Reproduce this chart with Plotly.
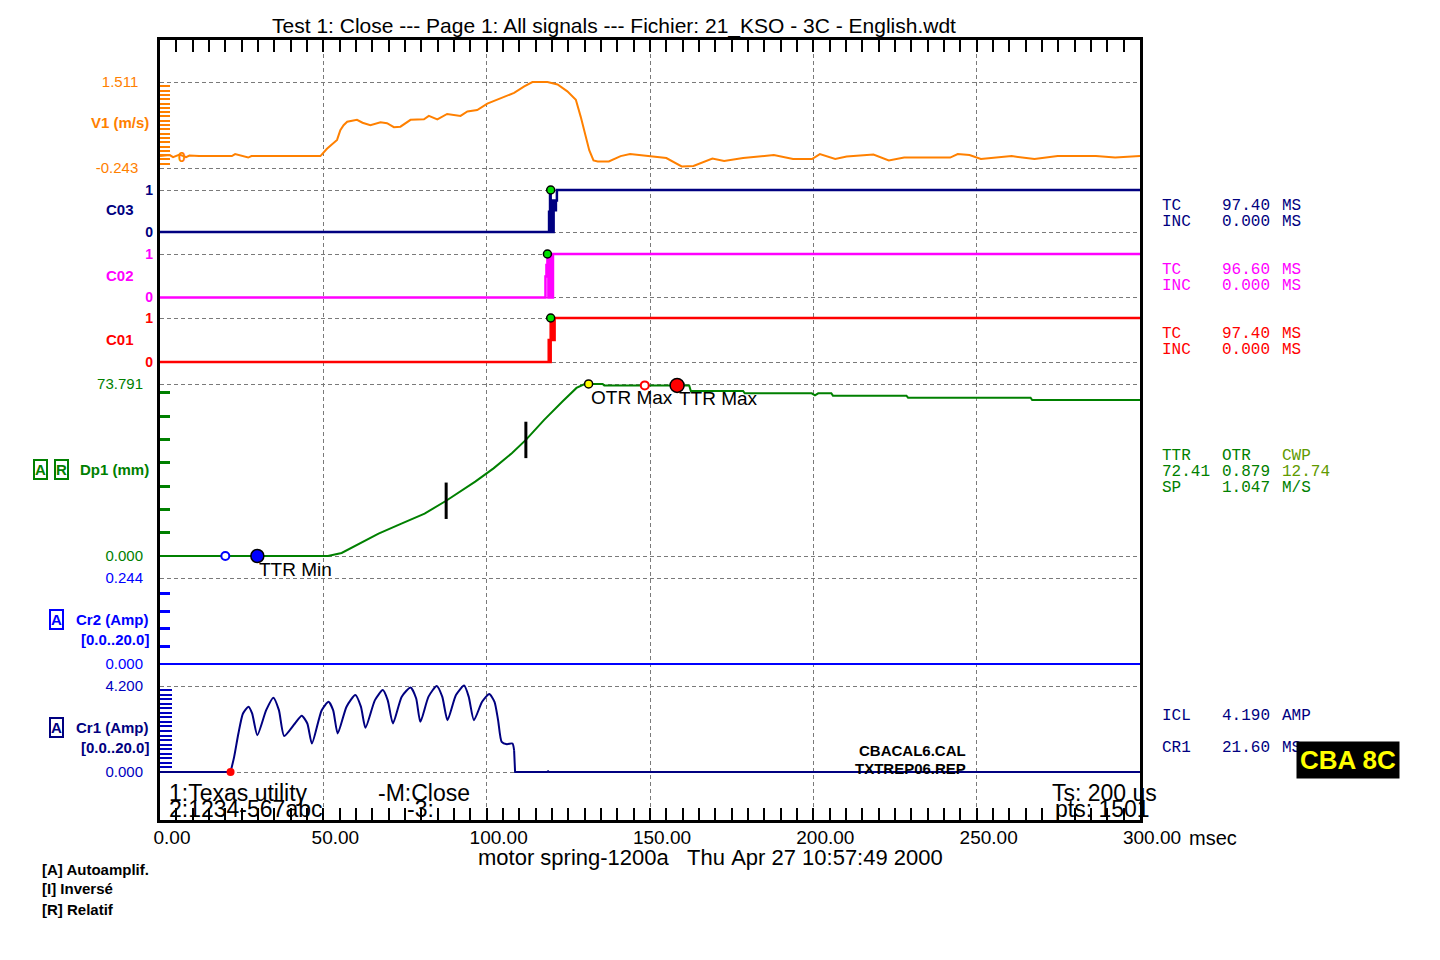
import numpy as np
import plotly.graph_objects as go

# ---- data (time in ms) ----
x_ticks = [0, 50, 100, 150, 200, 250, 300]
x_labels = ["0.00", "50.00", "100.00", "150.00", "200.00", "250.00", "300.00"]

# V1 speed (m/s)
v1_t = [0, 3, 4, 6, 8, 9, 12, 22, 23, 27, 28, 40, 49.1, 51.1, 54.2, 55.2, 56.2, 57.3, 60.3, 62.0,
        64.4, 67.5, 69.5, 71.6, 73.6, 76.7, 80.8, 82.3, 84.9, 87.9, 92.0, 94.1, 97.1, 100.2, 104.3,
        108.4, 111.5, 114.0, 118.6, 121.7, 124.7, 127.3, 128.8, 129.9, 131.4, 132.7, 134.0, 137.4,
        141.0, 143.9, 149.2, 155.0, 159.7, 163.3, 169.1, 172.7, 178.5, 187.9, 193.8, 199.6, 202.0,
        206.7, 210.2, 218.4, 223.1, 227.8, 241.9, 244.2, 247.8, 251.3, 260.7, 267.7, 274.8, 286.5,
        292.4, 300]
v1_v = [0, 0.02, -0.02, 0.03, -0.02, 0.01, 0, 0, 0.04, -0.03, 0, 0, 0, 0.15, 0.33, 0.53, 0.63, 0.70,
        0.74, 0.68, 0.63, 0.69, 0.67, 0.59, 0.60, 0.74, 0.75, 0.82, 0.75, 0.86, 0.82, 0.91, 0.94, 1.07,
        1.18, 1.29, 1.42, 1.51, 1.51, 1.46, 1.32, 1.15, 0.80, 0.53, 0.12, -0.09, -0.11, -0.11, 0, 0.04,
        0, -0.04, -0.21, -0.20, -0.05, -0.10, -0.04, 0.02, -0.06, -0.06, 0.04, -0.06, -0.01, 0.03,
        -0.09, -0.03, -0.03, 0.04, 0.02, -0.06, 0, -0.06, 0, 0, -0.03, 0]

# contacts (0/1 with bounce)
c03_t = [0, 119.1, 119.4, 119.6, 119.9, 120.2, 120.5, 120.8, 121.2, 121.5, 300]
c03_v = [0, 0.48, 1, 0, 0.75, 0, 0.75, 0.52, 0.75, 1, 1]
c02_t = [0, 118.0, 118.3, 118.6, 118.9, 119.4, 119.9, 120.3, 300]
c02_v = [0, 0.48, 0.75, 1, 0, 1, 0, 1, 1]
c01_t = [0, 119.0, 119.3, 119.6, 119.9, 120.2, 120.5, 120.8, 121.0, 300]
c01_v = [0, 0.5, 0, 1, 0.5, 1, 0.5, 1, 1, 1]
close_t = [119.6, 118.6, 119.6]   # green closing dots C03, C02, C01

# Dp1 travel (mm)
dp_t = [0, 51.4, 55.6, 66.9, 73.9, 81.0, 87.6, 92.0, 96.5, 102.1, 107.7, 112.0, 117.6, 123.2, 127.5,
        130.0, 135.5, 136.0, 162.0, 162.5, 178.5, 179.0, 199.5, 200.5, 201.5, 205.5, 206.0, 228.5,
        229.0, 266.5, 267.0, 300]
dp_v = [0, 0, 1.3, 9.6, 13.9, 18.2, 23.7, 27.6, 31.9, 37.6, 44.1, 49.8, 58.4, 66.3, 72.1, 73.8, 73.8,
        73.2, 73.2, 70.8, 70.8, 69.8, 69.8, 68.9, 69.8, 69.8, 68.8, 68.8, 67.9, 67.9, 66.9, 66.9]
cwp_t = [87.6, 112.0]
cwp_v = [23.7, 49.8]
ttr_min = (29.8, 0.0)
ttr_min_open = (20.0, 0.0)
otr_max = (131.2, 73.8)
ttr_max_open = (148.4, 73.2)
ttr_max = (158.3, 73.2)

# coil currents (A)
cr2_t = [0, 300]
cr2_v = [0, 0]
cr1_t = [0, 21.6, 22.7, 24.0, 25.4, 27.1, 28.2, 29.8, 32.5, 34.7, 36.4, 38.0, 41.3, 43.4, 45.1, 46.5,
         49.5, 51.6, 53.0, 54.4, 57.1, 59.8, 61.5, 62.9, 65.8, 68.2, 69.7, 71.3, 74.0, 76.7, 78.4,
         79.7, 82.2, 84.7, 86.4, 88.0, 90.6, 93.1, 94.5, 96.1, 98.6, 100.8, 102.4, 103.5, 104.6,
         106.2, 107.9, 108.4, 108.7, 118.5, 118.8, 119.1, 187, 187.5, 188, 193, 193.5, 194, 300]
cr1_v = [0, 0, 0.74, 1.88, 2.86, 3.19, 2.86, 1.80, 3.02, 3.63, 3.02, 1.76, 2.37, 2.75, 2.37, 1.39,
         3.02, 3.43, 3.02, 1.88, 3.19, 3.76, 3.19, 2.16, 3.51, 4.00, 3.51, 2.37, 3.68, 4.13, 3.60,
         2.45, 3.68, 4.20, 3.68, 2.53, 3.76, 4.22, 3.68, 2.53, 3.43, 3.81, 3.43, 2.53, 1.47, 1.36,
         1.39, 1.06, 0, 0, 0.04, 0, 0, 0.03, 0, 0, 0.03, 0, 0]
cr1_start = (21.6, 0.0)

# axis end labels
v1_ticks, v1_labels = [-0.243, 1.511], ["-0.243", "1.511"]
c_ticks, c_labels = [0, 1], ["0", "1"]
dp_ticks, dp_labels = [0, 73.791], ["0.000", "73.791"]
cr2_ticks, cr2_labels = [0, 0.244], ["0.000", "0.244"]
cr1_ticks, cr1_labels = [0, 4.2], ["0.000", "4.200"]

# ---- page geometry (pixels) ----
W, H = 1440, 960
L, R, T, B = 160, 1140, 40, 820
SANS = "Liberation Sans, Arial, sans-serif"
MONO = "Liberation Mono, Courier New, monospace"
GRID = "#7a7a7a"
ORANGE, NAVY, MAGENTA, RED = "#ff8000", "#000080", "#ff00ff", "#ff0000"
GREEN, BLUE = "#008000", "#0000ff"


def px(x):
    return (x - L) / (R - L)


def py(y):
    return (B - y) / (B - T)


def yaxis(ticks, labels, top, bot, color, size=15, bold=False, standoff=16, minor=None,
          overlay=True):
    lo, hi = ticks[0], ticks[-1]
    s = (hi - lo) / (bot - top)
    ax = dict(range=[lo - (B - bot) * s, hi + (top - T) * s], domain=[0, 1], anchor="x",
              tickmode="array", tickvals=ticks,
              ticktext=["<b>%s</b>" % t for t in labels] if bold else labels,
              ticks="", showgrid=True, gridcolor=GRID, griddash="4px,3px", gridwidth=1,
              zeroline=False, showline=False, ticklabelstandoff=standoff,
              tickfont=dict(family=SANS, size=size, color=color), fixedrange=True)
    if minor is not None:
        step, ln, wd = minor
        vals = list(np.arange(lo + step, hi - step * 0.3, step))
        ax["minor"] = dict(tickmode="array", tickvals=vals, ticks="inside", ticklen=ln,
                           tickwidth=wd, tickcolor=color, showgrid=False)
    if overlay:
        ax["overlaying"] = "y"
    return ax


fig = go.Figure()

fig.add_trace(go.Scatter(x=v1_t, y=v1_v, mode="lines", line=dict(color=ORANGE, width=2), yaxis="y"))
fig.add_trace(go.Scatter(x=c03_t, y=c03_v, mode="lines", line=dict(color=NAVY, width=2.5, shape="hv"),
                         yaxis="y2"))
fig.add_trace(go.Scatter(x=c02_t, y=c02_v, mode="lines", line=dict(color=MAGENTA, width=2.5, shape="hv"),
                         yaxis="y3"))
fig.add_trace(go.Scatter(x=c01_t, y=c01_v, mode="lines", line=dict(color=RED, width=2.5, shape="hv"),
                         yaxis="y4"))
for t, ax in zip(close_t, ["y2", "y3", "y4"]):
    fig.add_trace(go.Scatter(x=[t], y=[1], mode="markers", yaxis=ax, cliponaxis=False,
                             marker=dict(size=8, color="#00e000", line=dict(color="black", width=1.5))))

fig.add_trace(go.Scatter(x=dp_t, y=dp_v, mode="lines", line=dict(color=GREEN, width=2), yaxis="y5"))
fig.add_trace(go.Scatter(x=cwp_t, y=cwp_v, mode="markers", yaxis="y5",
                         marker=dict(symbol="line-ns", size=26, line=dict(color="black", width=3))))
dp_marks = [
    (ttr_min_open, 8, "white", BLUE, 2),
    (ttr_min, 13, BLUE, "black", 1.5),
    (otr_max, 8, "#ffff00", "black", 1.5),
    (ttr_max_open, 8, "white", RED, 2),
    (ttr_max, 14, RED, "black", 1.5),
]
for (t, v), sz, fill, edge, lw in dp_marks:
    fig.add_trace(go.Scatter(x=[t], y=[v], mode="markers", yaxis="y5", cliponaxis=False,
                             marker=dict(size=sz, color=fill, line=dict(color=edge, width=lw))))

fig.add_trace(go.Scatter(x=cr2_t, y=cr2_v, mode="lines", line=dict(color=BLUE, width=2), yaxis="y6"))
# coil current: flat parts straight, the ripple part smoothed
fig.add_trace(go.Scatter(x=cr1_t[:2] + [None] + cr1_t[47:], y=cr1_v[:2] + [None] + cr1_v[47:],
                         mode="lines", yaxis="y7", line=dict(color=NAVY, width=2)))
fig.add_trace(go.Scatter(x=cr1_t[1:48], y=cr1_v[1:48], mode="lines", yaxis="y7",
                         line=dict(color=NAVY, width=2, shape="spline", smoothing=0.6)))
fig.add_trace(go.Scatter(x=[cr1_start[0]], y=[cr1_start[1]], mode="markers", yaxis="y7",
                         cliponaxis=False, marker=dict(size=8, color=RED)))

ann = []


def note(text, x, y, color="black", size=15, bold=False, anchor="left", family=SANS, **kw):
    ann.append(dict(text="<b>%s</b>" % text if bold else text, x=px(x), y=py(y), xref="paper",
                    yref="paper", xanchor=anchor, yanchor="middle", showarrow=False,
                    font=dict(family=family, size=size, color=color), **kw))


def box(text, x, y, color):
    note(text, x, y, color, 15, True, "center", bordercolor=color, borderwidth=2, borderpad=0)


note("motor spring-1200a   Thu Apr 27 10:57:49 2000".replace(" ", "&nbsp;"), 710, 857, size=22,
     anchor="center")
note("msec", 1187, 838, size=20)

# channel names
note("V1 (m/s)", 151, 123, ORANGE, 15, True, "right")
note("0", 182, 157, ORANGE, 14, True, "center")
note("C03", 136, 209, NAVY, 15, True, "right")
note("C02", 136, 275, MAGENTA, 15, True, "right")
note("C01", 136, 339, RED, 15, True, "right")
note("Dp1 (mm)", 151, 469, GREEN, 15, True, "right")
box("A", 40, 469, GREEN)
box("R", 61, 469, GREEN)
note("Cr2 (Amp)", 151, 619, BLUE, 15, True, "right")
note("[0.0..20.0]", 151, 639, BLUE, 15, True, "right")
box("A", 56, 619, BLUE)
note("Cr1 (Amp)", 151, 727, NAVY, 15, True, "right")
note("[0.0..20.0]", 151, 747, NAVY, 15, True, "right")
box("A", 56, 727, NAVY)

# measurement panel on the right
rows = [
    (206, ["TC", "97.40", "MS"], NAVY), (222, ["INC", "0.000", "MS"], NAVY),
    (270, ["TC", "96.60", "MS"], MAGENTA), (286, ["INC", "0.000", "MS"], MAGENTA),
    (334, ["TC", "97.40", "MS"], RED), (350, ["INC", "0.000", "MS"], RED),
    (456, ["TTR", "OTR", "CWP"], GREEN), (472, ["72.41", "0.879", "12.74"], GREEN),
    (488, ["SP", "1.047", "M/S"], GREEN),
    (716, ["ICL", "4.190", "AMP"], NAVY), (748, ["CR1", "21.60", "MS"], NAVY),
]
for y, cells, col in rows:
    for x, c in zip([1160, 1220, 1280], cells):
        note(c, x, y, "#5f9a00" if (x == 1280 and col == GREEN and y < 480) else col, 16,
             family=MONO)
note("CBA 8C", 1348, 760, "#ffff00", 26, True, "center", bgcolor="black", borderpad=3)

# texts inside the plot
note("1:Texas utility", 167, 793, size=23)
note("2:1234-567abc", 167, 809, size=23)
note("-M:Close", 376, 793, size=23)
note("-3:", 405, 809, size=23)
note("Ts: 200 us", 1159, 793, size=23, anchor="right")
note("pts: 1501", 1152, 809, size=23, anchor="right")
note("CBACAL6.CAL", 968, 750, size=15, bold=True, anchor="right")
note("TXTREP06.REP", 968, 768, size=15, bold=True, anchor="right")

# footnotes
note("[A] Autoamplif.", 40, 869, size=15, bold=True)
note("[I] Inversé", 40, 889, size=15, bold=True)
note("[R] Relatif", 40, 909, size=15, bold=True)

# marker labels on Dp1
for (t, v), txt in [(ttr_min, "TTR Min"), (otr_max, "OTR Max"), (ttr_max, "TTR Max")]:
    ann.append(dict(text=txt, x=t, y=v, xref="x", yref="y5", xanchor="left", yanchor="top",
                    xshift=0, yshift=-1, showarrow=False, font=dict(family=SANS, size=19, color="black")))

fig.update_layout(
    width=W, height=H, margin=dict(l=L, r=W - R, t=T, b=H - B, pad=0),
    paper_bgcolor="white", plot_bgcolor="white", showlegend=False,
    title=dict(text="Test 1: Close --- Page 1: All signals --- Fichier: 21_KSO - 3C - English.wdt",
               xref="container", yref="container", x=614 / W, y=1 - 26 / H,
               xanchor="center", yanchor="middle",
               font=dict(family=SANS, size=21, color="black")),
    xaxis=dict(range=[0, 300], domain=[0, 1], anchor="y", tickmode="array", tickvals=x_ticks,
               ticktext=x_labels, ticks="inside", ticklen=12, tickwidth=2, tickcolor="black",
               showline=True, linecolor="black", linewidth=2.5, mirror="allticks",
               showgrid=True, gridcolor=GRID, griddash="4px,3px", gridwidth=1, zeroline=False,
               ticklabelshift=12, ticklabelstandoff=-2, fixedrange=True,
               tickfont=dict(family=SANS, size=19, color="black"),
               minor=dict(tick0=0, dtick=5, ticks="inside", ticklen=6, tickwidth=2,
                          tickcolor="black", showgrid=False)),
    yaxis=dict(yaxis(v1_ticks, v1_labels, 82, 168, ORANGE, minor=(0.0877, 10, 2), overlay=False),
               showline=True, linecolor="black", linewidth=2.5, mirror=True),
    yaxis2=yaxis(c_ticks, c_labels, 190, 232, NAVY, 14, True, 6),
    yaxis3=yaxis(c_ticks, c_labels, 254, 297.5, MAGENTA, 14, True, 6),
    yaxis4=yaxis(c_ticks, c_labels, 318, 362, RED, 14, True, 6),
    yaxis5=yaxis(dp_ticks, dp_labels, 384, 556, GREEN, minor=(10, 10, 2.5)),
    yaxis6=yaxis(cr2_ticks, cr2_labels, 578, 664, BLUE, minor=(0.05, 10, 2.5)),
    yaxis7=yaxis(cr1_ticks, cr1_labels, 686, 772, "#0000c0", minor=(0.2225, 12, 2)),
    annotations=ann,
)

fig.write_html("out.html", config={"displayModeBar": False},
               post_script="document.body.style.margin='0';")
